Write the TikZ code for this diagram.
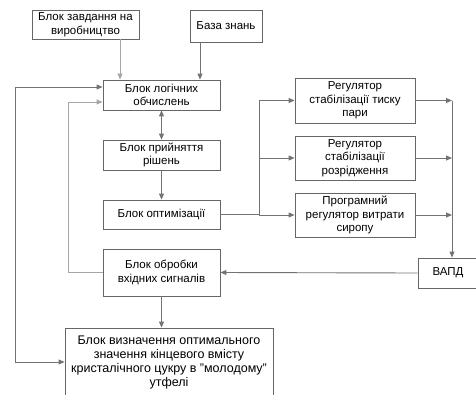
\documentclass[tikz,border=0pt]{standalone}
\usepackage{fontspec}
\setmainfont{Liberation Sans}
\usetikzlibrary{arrows.meta}
\begin{document}
\begin{tikzpicture}[x=1pt,y=-1pt,
  box/.style={draw=black!60, line width=0.8pt, fill=white, align=center, inner sep=1pt,
    font=\fontsize{11.5}{13.5}\selectfont},
  conn/.style={draw=black!55, line width=0.9pt},
  lconn/.style={draw=black!35, line width=0.9pt},
  tip/.style={-{Triangle[length=6pt,width=5pt]}},
  dtip/.style={{Triangle[length=6pt,width=5pt]}-{Triangle[length=6pt,width=5pt]}}]
\useasboundingbox (0,0) rectangle (476,394);
\begin{scope}
\clip (0,0) rectangle (476,394);
\node[box, minimum width=107pt, minimum height=29pt] (zav) at (85.5,24.5) {Блок завдання на\\виробництво};
\node[box, minimum width=72pt, minimum height=32pt] (baza) at (226,26) {База знань};
\node[box, minimum width=117pt, minimum height=30pt] (log) at (161.5,95) {Блок логічних\\обчислень};
\node[box, minimum width=117pt, minimum height=30pt] (pry) at (161.5,155) {Блок прийняття\\рішень};
\node[box, minimum width=117pt, minimum height=29pt] (opt) at (161.5,214.5) {Блок оптимізації};
\node[box, minimum width=117pt, minimum height=47pt] (obr) at (161.5,272.5) {Блок обробки\\вхідних сигналів};
\node[box, minimum width=208pt, minimum height=68pt, font=\fontsize{12.5}{14}\selectfont] (big) at (169,362) {Блок визначення оптимального\\значення кінцевого вмісту\\кристалічного цукру в "молодому"\\утфелі};
\node[box, minimum width=120pt, minimum height=45pt] (r1) at (355,100.5) {Регулятор\\стабілізації тиску\\пари};
\node[box, minimum width=120pt, minimum height=44pt] (r2) at (355,158) {Регулятор\\стабілізації\\розрідження};
\node[box, minimum width=120pt, minimum height=44pt] (r3) at (355,215) {Програмний\\регулятор витрати\\сиропу};
\node[box, minimum width=60pt, minimum height=30pt] (vapd) at (448,273) {ВАПД};

\coordinate (xa) at (120,0);
\coordinate (xb) at (200,0);
\coordinate (xo) at (15,0);
\coordinate (xi) at (68,0);
\coordinate (xs) at (259,0);
\coordinate (xc) at (452,0);
\coordinate (y1) at (0,87);
\coordinate (y2) at (0,102);
\coordinate (y3) at (0,362);

\draw[lconn, tip] (zav.south -| xa) -- (log.north -| xa);
\draw[conn, tip] (baza.south -| xb) -- (log.north -| xb);
\draw[conn, dtip] (big.west |- y3) -| (xo |- y1) -- (log.west |- y1);
\draw[lconn, tip] (obr.west) -| (xi |- y2) -- (log.west |- y2);
\draw[conn, dtip] (log.south) -- (pry.north);
\draw[conn, tip] (pry.south) -- (opt.north);
\draw[conn] (opt.east) -- (xs |- opt.east);
\draw[conn] (xs |- r3.west) -- (xs |- r1.west);
\draw[conn, tip] (xs |- r1.west) -- (r1.west);
\draw[conn, tip] (xs |- r2.west) -- (r2.west);
\draw[conn, tip] (xs |- r3.west) -- (r3.west);
\draw[conn, tip] (r1.east) -- (xc |- r1.east);
\draw[conn, tip] (r2.east) -- (xc |- r2.east);
\draw[conn, tip] (r3.east) -- (xc |- r3.east);
\draw[conn, tip] (xc |- r1.east) -- (vapd.north -| xc);
\draw[conn, tip] (vapd.west) -- (obr.east);
\draw[conn, tip] (obr.south) -- (obr.south |- big.north);
\end{scope}
\end{tikzpicture}
\end{document}
